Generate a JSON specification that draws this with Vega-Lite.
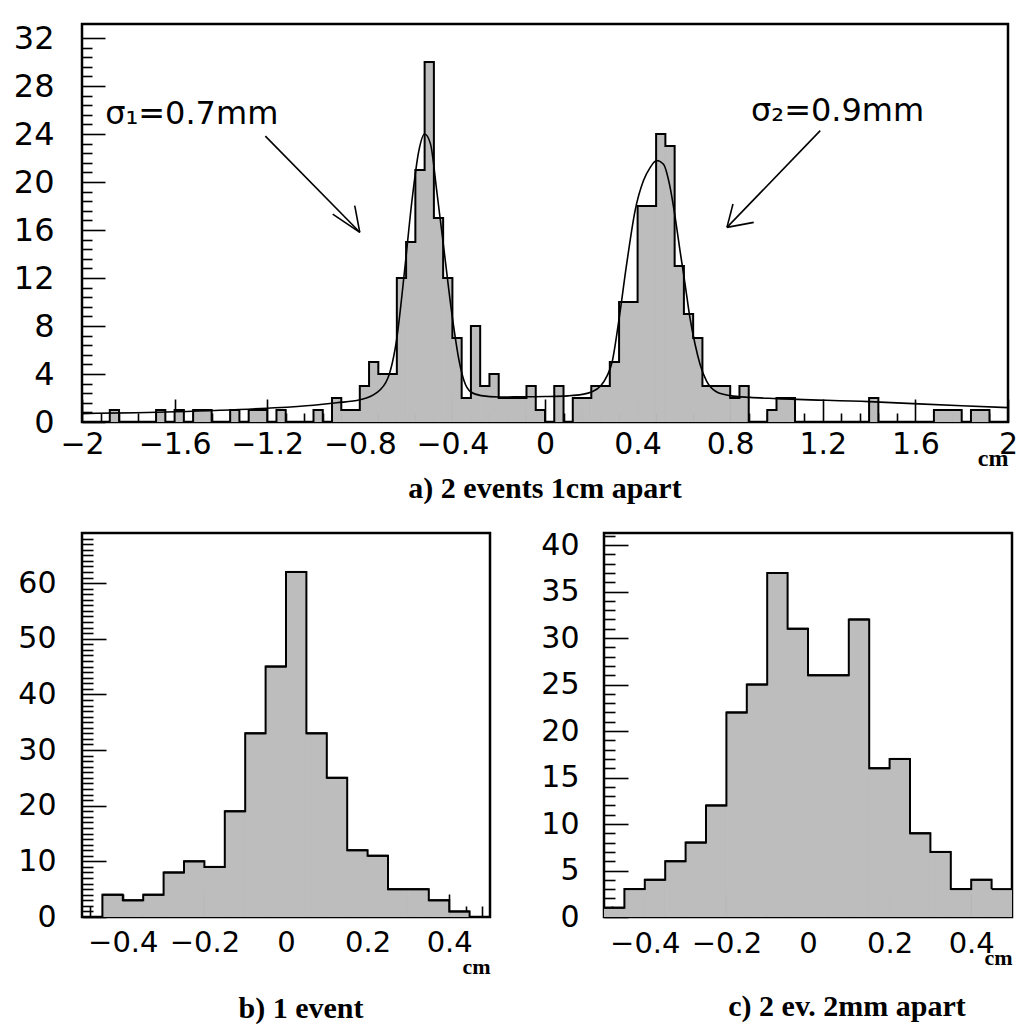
{
  "$schema": "https://vega.github.io/schema/vega-lite/v6.json",
  "background": "white",
  "padding": {"left": 12, "top": 20, "right": 5, "bottom": 5},
  "spacing": 111,
  "bounds": "flush",
  "datasets": {
    "top": [
      {"lo": -2.00, "hi": -1.96, "count": 0}, {"lo": -1.96, "hi": -1.92, "count": 0}, {"lo": -1.92, "hi": -1.88, "count": 0}, {"lo": -1.88, "hi": -1.84, "count": 1},
      {"lo": -1.84, "hi": -1.80, "count": 0}, {"lo": -1.80, "hi": -1.76, "count": 0}, {"lo": -1.76, "hi": -1.72, "count": 0}, {"lo": -1.72, "hi": -1.68, "count": 0},
      {"lo": -1.68, "hi": -1.64, "count": 1}, {"lo": -1.64, "hi": -1.60, "count": 0}, {"lo": -1.60, "hi": -1.56, "count": 1}, {"lo": -1.56, "hi": -1.52, "count": 0},
      {"lo": -1.52, "hi": -1.48, "count": 1}, {"lo": -1.48, "hi": -1.44, "count": 1}, {"lo": -1.44, "hi": -1.40, "count": 0}, {"lo": -1.40, "hi": -1.36, "count": 0},
      {"lo": -1.36, "hi": -1.32, "count": 1}, {"lo": -1.32, "hi": -1.28, "count": 0}, {"lo": -1.28, "hi": -1.24, "count": 1}, {"lo": -1.24, "hi": -1.20, "count": 1},
      {"lo": -1.20, "hi": -1.16, "count": 0}, {"lo": -1.16, "hi": -1.12, "count": 1}, {"lo": -1.12, "hi": -1.08, "count": 0}, {"lo": -1.08, "hi": -1.04, "count": 0},
      {"lo": -1.04, "hi": -1.00, "count": 0}, {"lo": -1.00, "hi": -0.96, "count": 1}, {"lo": -0.96, "hi": -0.92, "count": 0}, {"lo": -0.92, "hi": -0.88, "count": 2},
      {"lo": -0.88, "hi": -0.84, "count": 1}, {"lo": -0.84, "hi": -0.80, "count": 1}, {"lo": -0.80, "hi": -0.76, "count": 3}, {"lo": -0.76, "hi": -0.72, "count": 5},
      {"lo": -0.72, "hi": -0.68, "count": 4}, {"lo": -0.68, "hi": -0.64, "count": 4}, {"lo": -0.64, "hi": -0.60, "count": 12}, {"lo": -0.60, "hi": -0.56, "count": 15},
      {"lo": -0.56, "hi": -0.52, "count": 21}, {"lo": -0.52, "hi": -0.48, "count": 30}, {"lo": -0.48, "hi": -0.44, "count": 17}, {"lo": -0.44, "hi": -0.40, "count": 12},
      {"lo": -0.40, "hi": -0.36, "count": 7}, {"lo": -0.36, "hi": -0.32, "count": 2}, {"lo": -0.32, "hi": -0.28, "count": 8}, {"lo": -0.28, "hi": -0.24, "count": 3},
      {"lo": -0.24, "hi": -0.20, "count": 4}, {"lo": -0.20, "hi": -0.16, "count": 2}, {"lo": -0.16, "hi": -0.12, "count": 2}, {"lo": -0.12, "hi": -0.08, "count": 2},
      {"lo": -0.08, "hi": -0.04, "count": 3}, {"lo": -0.04, "hi": 0.00, "count": 1}, {"lo": 0.00, "hi": 0.04, "count": 0}, {"lo": 0.04, "hi": 0.08, "count": 3},
      {"lo": 0.08, "hi": 0.12, "count": 0}, {"lo": 0.12, "hi": 0.16, "count": 2}, {"lo": 0.16, "hi": 0.20, "count": 2}, {"lo": 0.20, "hi": 0.24, "count": 3},
      {"lo": 0.24, "hi": 0.28, "count": 3}, {"lo": 0.28, "hi": 0.32, "count": 5}, {"lo": 0.32, "hi": 0.36, "count": 10}, {"lo": 0.36, "hi": 0.40, "count": 10},
      {"lo": 0.40, "hi": 0.44, "count": 18}, {"lo": 0.44, "hi": 0.48, "count": 18}, {"lo": 0.48, "hi": 0.52, "count": 24}, {"lo": 0.52, "hi": 0.56, "count": 23},
      {"lo": 0.56, "hi": 0.60, "count": 13}, {"lo": 0.60, "hi": 0.64, "count": 9}, {"lo": 0.64, "hi": 0.68, "count": 7}, {"lo": 0.68, "hi": 0.72, "count": 3},
      {"lo": 0.72, "hi": 0.76, "count": 3}, {"lo": 0.76, "hi": 0.80, "count": 3}, {"lo": 0.80, "hi": 0.84, "count": 2}, {"lo": 0.84, "hi": 0.88, "count": 3},
      {"lo": 0.88, "hi": 0.92, "count": 0}, {"lo": 0.92, "hi": 0.96, "count": 0}, {"lo": 0.96, "hi": 1.00, "count": 1}, {"lo": 1.00, "hi": 1.04, "count": 2},
      {"lo": 1.04, "hi": 1.08, "count": 2}, {"lo": 1.08, "hi": 1.12, "count": 0}, {"lo": 1.12, "hi": 1.16, "count": 0}, {"lo": 1.16, "hi": 1.20, "count": 0},
      {"lo": 1.20, "hi": 1.24, "count": 0}, {"lo": 1.24, "hi": 1.28, "count": 0}, {"lo": 1.28, "hi": 1.32, "count": 0}, {"lo": 1.32, "hi": 1.36, "count": 0},
      {"lo": 1.36, "hi": 1.40, "count": 0}, {"lo": 1.40, "hi": 1.44, "count": 2}, {"lo": 1.44, "hi": 1.48, "count": 0}, {"lo": 1.48, "hi": 1.52, "count": 0},
      {"lo": 1.52, "hi": 1.56, "count": 0}, {"lo": 1.56, "hi": 1.60, "count": 0}, {"lo": 1.60, "hi": 1.64, "count": 0}, {"lo": 1.64, "hi": 1.68, "count": 0},
      {"lo": 1.68, "hi": 1.72, "count": 1}, {"lo": 1.72, "hi": 1.76, "count": 1}, {"lo": 1.76, "hi": 1.80, "count": 1}, {"lo": 1.80, "hi": 1.84, "count": 0},
      {"lo": 1.84, "hi": 1.88, "count": 1}, {"lo": 1.88, "hi": 1.92, "count": 1}, {"lo": 1.92, "hi": 1.96, "count": 0}, {"lo": 1.96, "hi": 2.00, "count": 0}
    ],
    "fit": [
      {"x": -2.0, "y": 0.7}, {"x": -1.6, "y": 0.85}, {"x": -1.2, "y": 1.15}, {"x": -1.0, "y": 1.4}, {"x": -0.9, "y": 1.6},
      {"x": -0.8, "y": 1.85}, {"x": -0.73, "y": 2.4}, {"x": -0.68, "y": 3.6}, {"x": -0.64, "y": 7.0}, {"x": -0.605, "y": 12.9},
      {"x": -0.575, "y": 18.4}, {"x": -0.545, "y": 22.6}, {"x": -0.52, "y": 24.0}, {"x": -0.495, "y": 23.2}, {"x": -0.466, "y": 19.0},
      {"x": -0.436, "y": 14.3}, {"x": -0.40, "y": 8.7}, {"x": -0.371, "y": 5.1}, {"x": -0.349, "y": 3.4}, {"x": -0.32, "y": 2.5},
      {"x": -0.276, "y": 2.2}, {"x": -0.2, "y": 2.08}, {"x": -0.1, "y": 2.1}, {"x": 0.0, "y": 2.12}, {"x": 0.1, "y": 2.18},
      {"x": 0.16, "y": 2.3}, {"x": 0.2, "y": 2.5}, {"x": 0.24, "y": 3.0}, {"x": 0.267, "y": 3.8}, {"x": 0.29, "y": 5.0},
      {"x": 0.317, "y": 8.2}, {"x": 0.353, "y": 13.2}, {"x": 0.389, "y": 17.6}, {"x": 0.425, "y": 20.1}, {"x": 0.454, "y": 21.2},
      {"x": 0.482, "y": 21.8}, {"x": 0.511, "y": 21.5}, {"x": 0.54, "y": 19.6}, {"x": 0.562, "y": 17.1}, {"x": 0.583, "y": 14.3},
      {"x": 0.605, "y": 11.5}, {"x": 0.626, "y": 8.7}, {"x": 0.648, "y": 6.5}, {"x": 0.67, "y": 4.8}, {"x": 0.698, "y": 3.4},
      {"x": 0.742, "y": 2.5}, {"x": 0.8, "y": 2.2}, {"x": 0.886, "y": 2.05}, {"x": 1.0, "y": 1.95}, {"x": 1.4, "y": 1.7},
      {"x": 1.8, "y": 1.35}, {"x": 2.0, "y": 1.2}
    ],
    "arrows": [
      {"x": -1.208, "y": 23.83, "x2": -0.80, "y2": 15.81},
      {"x": -0.917, "y": 17.33, "x2": -0.80, "y2": 15.81},
      {"x": -0.822, "y": 18.03, "x2": -0.80, "y2": 15.81},
      {"x": 1.189, "y": 24.28, "x2": 0.786, "y2": 16.22},
      {"x": 0.9015, "y": 16.64, "x2": 0.786, "y2": 16.22},
      {"x": 0.812, "y": 18.17, "x2": 0.786, "y2": 16.22}
    ],
    "oneEvent": [
      {"lo": -0.50, "hi": -0.45, "count": 0}, {"lo": -0.45, "hi": -0.40, "count": 4}, {"lo": -0.40, "hi": -0.35, "count": 3}, {"lo": -0.35, "hi": -0.30, "count": 4},
      {"lo": -0.30, "hi": -0.25, "count": 8}, {"lo": -0.25, "hi": -0.20, "count": 10}, {"lo": -0.20, "hi": -0.15, "count": 9}, {"lo": -0.15, "hi": -0.10, "count": 19},
      {"lo": -0.10, "hi": -0.05, "count": 33}, {"lo": -0.05, "hi": 0.00, "count": 45}, {"lo": 0.00, "hi": 0.05, "count": 62}, {"lo": 0.05, "hi": 0.10, "count": 33},
      {"lo": 0.10, "hi": 0.15, "count": 25}, {"lo": 0.15, "hi": 0.20, "count": 12}, {"lo": 0.20, "hi": 0.25, "count": 11}, {"lo": 0.25, "hi": 0.30, "count": 5},
      {"lo": 0.30, "hi": 0.35, "count": 5}, {"lo": 0.35, "hi": 0.40, "count": 3}, {"lo": 0.40, "hi": 0.45, "count": 1}, {"lo": 0.45, "hi": 0.50, "count": 0}
    ],
    "twoEv": [
      {"lo": -0.50, "hi": -0.45, "count": 1}, {"lo": -0.45, "hi": -0.40, "count": 3}, {"lo": -0.40, "hi": -0.35, "count": 4}, {"lo": -0.35, "hi": -0.30, "count": 6},
      {"lo": -0.30, "hi": -0.25, "count": 8}, {"lo": -0.25, "hi": -0.20, "count": 12}, {"lo": -0.20, "hi": -0.15, "count": 22}, {"lo": -0.15, "hi": -0.10, "count": 25},
      {"lo": -0.10, "hi": -0.05, "count": 37}, {"lo": -0.05, "hi": 0.00, "count": 31}, {"lo": 0.00, "hi": 0.05, "count": 26}, {"lo": 0.05, "hi": 0.10, "count": 26},
      {"lo": 0.10, "hi": 0.15, "count": 32}, {"lo": 0.15, "hi": 0.20, "count": 16}, {"lo": 0.20, "hi": 0.25, "count": 17}, {"lo": 0.25, "hi": 0.30, "count": 9},
      {"lo": 0.30, "hi": 0.35, "count": 7}, {"lo": 0.35, "hi": 0.40, "count": 3}, {"lo": 0.40, "hi": 0.45, "count": 4}, {"lo": 0.45, "hi": 0.50, "count": 3}
    ]
  },
  "config": {
    "view": {"stroke": "black", "strokeWidth": 2.5},
    "axis": {
      "domain": false, "grid": false, "tickColor": "black", "tickWidth": 1.6,
      "labelFont": "DejaVu Sans", "labelColor": "black", "labelFlush": false, "labelOverlap": false,
      "zindex": 1, "titleFont": "Liberation Serif", "titleFontWeight": "bold", "titleColor": "black"
    },
    "title": {"font": "Liberation Serif", "fontWeight": "bold", "fontSize": 30, "color": "black", "orient": "bottom", "anchor": "middle"}
  },
  "vconcat": [
    {
      "width": 926,
      "height": 398,
      "title": {"text": "a) 2 events 1cm apart", "offset": 1},
      "layer": [
        {
          "data": {"name": "top"},
          "mark": {"type": "rect", "fill": "#bdbdbd", "stroke": "#bdbdbd", "strokeWidth": 0.8, "clip": true},
          "encoding": {
            "x": {"field": "lo", "type": "quantitative", "scale": {"domain": [-2, 2], "nice": false, "zero": false},
              "axis": {
                "values": [-2, -1.92, -1.84, -1.76, -1.68, -1.6, -1.52, -1.44, -1.36, -1.28, -1.2, -1.12, -1.04, -0.96, -0.88, -0.8, -0.72, -0.64, -0.56, -0.48, -0.4, -0.32, -0.24, -0.16, -0.08, 0, 0.08, 0.16, 0.24, 0.32, 0.4, 0.48, 0.56, 0.64, 0.72, 0.8, 0.88, 0.96, 1.04, 1.12, 1.2, 1.28, 1.36, 1.44, 1.52, 1.6, 1.68, 1.76, 1.84, 1.92, 2],
                "tickCount": 500,
                "format": "~g",
                "labelExpr": "abs(datum.value/0.4 - round(datum.value/0.4)) < 0.001 ? datum.label : ''",
                "tickSize": {"condition": {"test": "abs(datum.value/0.4 - round(datum.value/0.4)) < 0.001", "value": -23}, "value": -9},
                "labelFontSize": 30, "labelPadding": 30,
                "title": "cm", "titleAnchor": "end", "titleAlign": "right", "titleFontSize": 24, "titlePadding": -27
              }},
            "x2": {"field": "hi"},
            "y": {"field": "count", "type": "quantitative", "scale": {"domain": [0, 33.17], "nice": false},
              "axis": {
                "values": [0, 0.8, 1.6, 2.4, 3.2, 4, 4.8, 5.6, 6.4, 7.2, 8, 8.8, 9.6, 10.4, 11.2, 12, 12.8, 13.6, 14.4, 15.2, 16, 16.8, 17.6, 18.4, 19.2, 20, 20.8, 21.6, 22.4, 23.2, 24, 24.8, 25.6, 26.4, 27.2, 28, 28.8, 29.6, 30.4, 31.2, 32],
                "tickCount": 500,
                "format": "~g",
                "labelExpr": "abs(datum.value/4 - round(datum.value/4)) < 0.001 ? datum.label : ''",
                "tickSize": {"condition": {"test": "abs(datum.value/4 - round(datum.value/4)) < 0.001", "value": -23}, "value": -10},
                "labelFontSize": 32, "labelPadding": 51, "title": null
              }},
            "y2": {"datum": 0}
          }
        },
        {
          "data": {"name": "top"},
          "mark": {"type": "line", "interpolate": "step-after", "color": "black", "strokeWidth": 2, "clip": true},
          "encoding": {
            "x": {"field": "lo", "type": "quantitative"},
            "y": {"field": "count", "type": "quantitative"}
          }
        },
        {
          "data": {"name": "top"},
          "mark": {"type": "rule", "color": "black", "strokeWidth": 2, "clip": true},
          "encoding": {
            "x": {"field": "lo", "type": "quantitative"},
            "x2": {"field": "hi"},
            "y": {"field": "count", "type": "quantitative"}
          }
        },
        {
          "data": {"name": "fit"},
          "mark": {"type": "line", "interpolate": "monotone", "color": "black", "strokeWidth": 1.6},
          "encoding": {
            "x": {"field": "x", "type": "quantitative"},
            "y": {"field": "y", "type": "quantitative"}
          }
        },
        {
          "data": {"name": "arrows"},
          "mark": {"type": "rule", "color": "black", "strokeWidth": 1.6},
          "encoding": {
            "x": {"field": "x", "type": "quantitative"},
            "y": {"field": "y", "type": "quantitative"},
            "x2": {"field": "x2"},
            "y2": {"field": "y2"}
          }
        },
        {
          "data": {"values": [{}]},
          "mark": {"type": "text", "text": "σ₁=0.7mm", "font": "DejaVu Sans", "fontSize": 32, "align": "left", "baseline": "alphabetic", "color": "black"},
          "encoding": {"x": {"datum": -1.9}, "y": {"datum": 24.8}}
        },
        {
          "data": {"values": [{}]},
          "mark": {"type": "text", "text": "σ₂=0.9mm", "font": "DejaVu Sans", "fontSize": 32, "align": "left", "baseline": "alphabetic", "color": "black"},
          "encoding": {"x": {"datum": 0.89}, "y": {"datum": 25.1}}
        }
      ]
    },
    {
      "hconcat": [
        {
          "width": 408,
          "height": 384,
          "data": {"name": "oneEvent"},
          "title": {"text": "b) 1 event", "offset": 17, "dx": 15},
          "encoding": {
            "x": {"field": "lo", "type": "quantitative", "scale": {"domain": [-0.5, 0.5], "nice": false, "zero": false},
              "axis": {
                "values": [-0.48, -0.44, -0.4, -0.36, -0.32, -0.28, -0.24, -0.2, -0.16, -0.12, -0.08, -0.04, 0, 0.04, 0.08, 0.12, 0.16, 0.2, 0.24, 0.28, 0.32, 0.36, 0.4, 0.44, 0.48],
                "tickCount": 500,
                "format": "~g",
                "labelExpr": "abs(datum.value/0.2 - round(datum.value/0.2)) < 0.001 ? datum.label : ''",
                "tickSize": {"condition": {"test": "abs(datum.value/0.2 - round(datum.value/0.2)) < 0.001", "value": -23}, "value": -11},
                "labelFontSize": 29, "labelPadding": 34,
                "title": "cm", "titleAnchor": "end", "titleAlign": "right", "titleFontSize": 22, "titlePadding": -13
              }},
            "y": {"field": "count", "type": "quantitative", "scale": {"domain": [0, 69], "nice": false},
              "axis": {
                "values": [0,1,2,3,4,5,6,7,8,9,10,11,12,13,14,15,16,17,18,19,20,21,22,23,24,25,26,27,28,29,30,31,32,33,34,35,36,37,38,39,40,41,42,43,44,45,46,47,48,49,50,51,52,53,54,55,56,57,58,59,60,61,62,63,64,65,66,67,68],
                "tickCount": 500,
                "format": "d",
                "labelExpr": "datum.value % 10 === 0 ? datum.label : ''",
                "tickSize": {"condition": {"test": "datum.value % 10 === 0", "value": -24}, "value": -11},
                "labelFontSize": 30, "labelPadding": 50, "title": null
              }}
          },
          "layer": [
            {"mark": {"type": "rect", "fill": "#bdbdbd", "stroke": "#bdbdbd", "strokeWidth": 0.8, "clip": true}, "encoding": {"x2": {"field": "hi"}, "y2": {"datum": 0}}},
            {"mark": {"type": "line", "interpolate": "step-after", "color": "black", "strokeWidth": 2, "clip": true}},
            {"mark": {"type": "rule", "color": "black", "strokeWidth": 2, "clip": true}, "encoding": {"x2": {"field": "hi"}}}
          ]
        },
        {
          "width": 408,
          "height": 384,
          "data": {"name": "twoEv"},
          "title": {"text": "c) 2 ev. 2mm apart", "offset": 22, "dx": 39},
          "encoding": {
            "x": {"field": "lo", "type": "quantitative", "scale": {"domain": [-0.5, 0.5], "nice": false, "zero": false},
              "axis": {
                "values": [-0.48, -0.44, -0.4, -0.36, -0.32, -0.28, -0.24, -0.2, -0.16, -0.12, -0.08, -0.04, 0, 0.04, 0.08, 0.12, 0.16, 0.2, 0.24, 0.28, 0.32, 0.36, 0.4, 0.44, 0.48],
                "tickCount": 500,
                "format": "~g",
                "labelExpr": "abs(datum.value/0.2 - round(datum.value/0.2)) < 0.001 ? datum.label : ''",
                "tickSize": {"condition": {"test": "abs(datum.value/0.2 - round(datum.value/0.2)) < 0.001", "value": -23}, "value": -11},
                "labelFontSize": 29, "labelPadding": 35,
                "title": "cm", "titleAnchor": "end", "titleAlign": "right", "titleFontSize": 22, "titlePadding": -23
              }},
            "y": {"field": "count", "type": "quantitative", "scale": {"domain": [0, 41.3], "nice": false},
              "axis": {
                "values": [0,1,2,3,4,5,6,7,8,9,10,11,12,13,14,15,16,17,18,19,20,21,22,23,24,25,26,27,28,29,30,31,32,33,34,35,36,37,38,39,40,41],
                "tickCount": 500,
                "format": "d",
                "labelExpr": "datum.value % 5 === 0 ? datum.label : ''",
                "tickSize": {"condition": {"test": "datum.value % 5 === 0", "value": -24}, "value": -11},
                "labelFontSize": 30, "labelPadding": 49, "title": null
              }}
          },
          "layer": [
            {"mark": {"type": "rect", "fill": "#bdbdbd", "stroke": "#bdbdbd", "strokeWidth": 0.8, "clip": true}, "encoding": {"x2": {"field": "hi"}, "y2": {"datum": 0}}},
            {"mark": {"type": "line", "interpolate": "step-after", "color": "black", "strokeWidth": 2, "clip": true}},
            {"mark": {"type": "rule", "color": "black", "strokeWidth": 2, "clip": true}, "encoding": {"x2": {"field": "hi"}}}
          ]
        }
      ],
      "spacing": 114,
      "bounds": "flush"
    }
  ]
}
